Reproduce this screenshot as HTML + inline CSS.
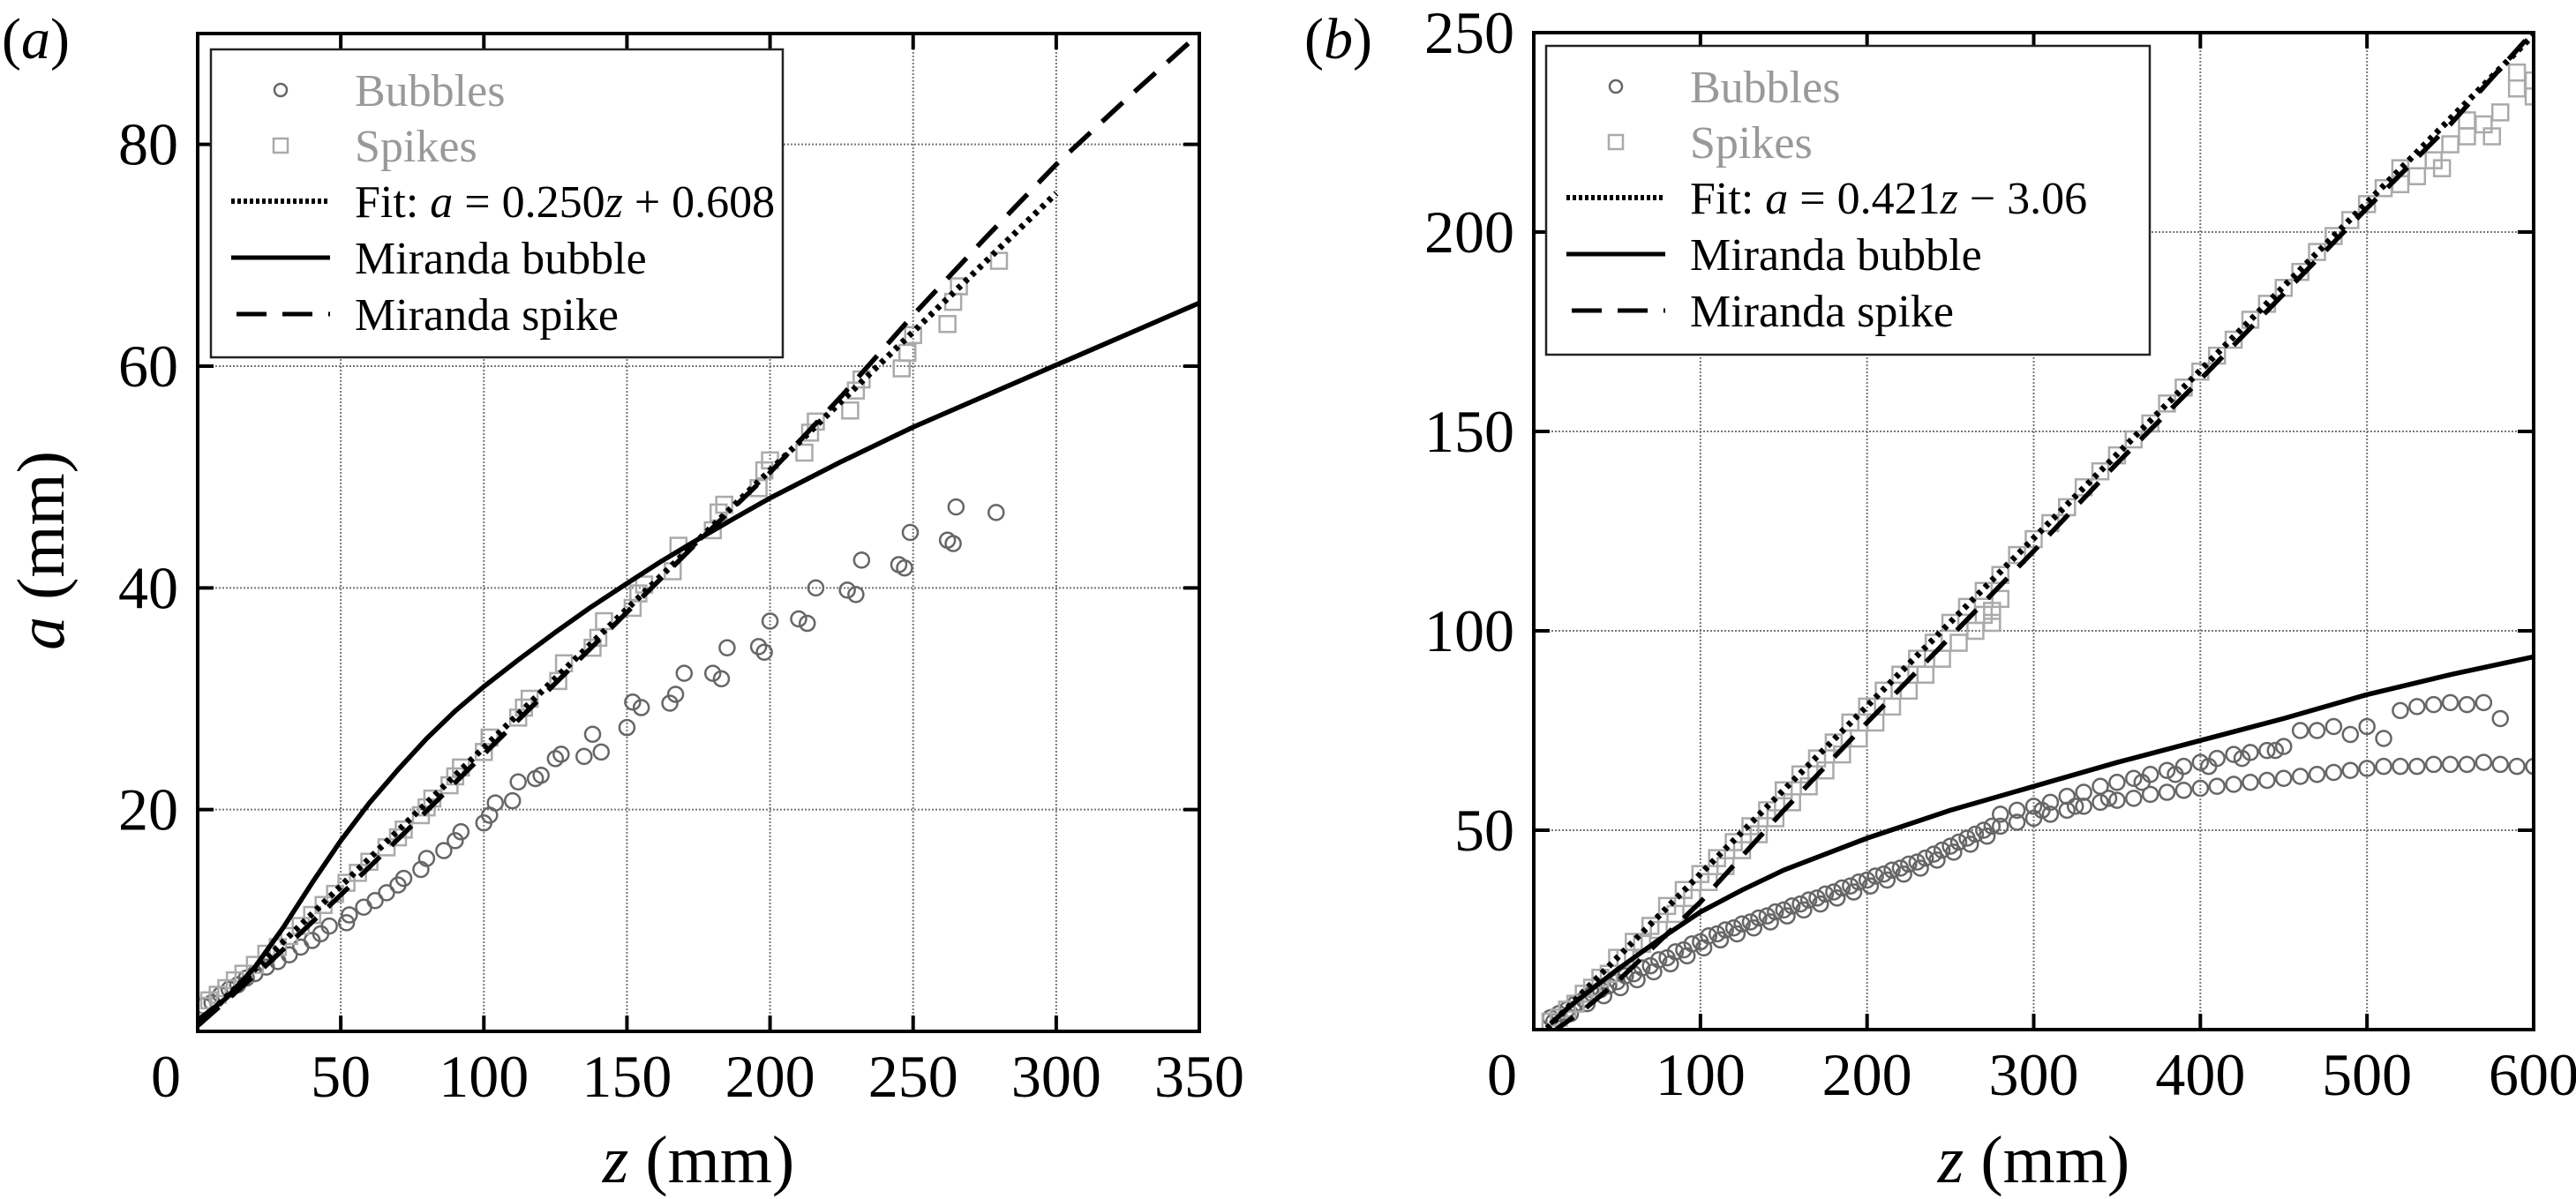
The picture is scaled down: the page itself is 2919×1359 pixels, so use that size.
<!DOCTYPE html>
<html><head><meta charset="utf-8"><style>
html,body{margin:0;padding:0;background:#fff;}
svg{display:block;font-family:"Liberation Serif","DejaVu Serif",serif;}
</style></head><body>
<svg id="fig" width="2919" height="1359" viewBox="0 0 2919 1359" xmlns="http://www.w3.org/2000/svg"></svg>
<script>
// ---------- Panel (a) data ----------
const aBubZ = [2,5,8,11,14,17,20,24,28,32,36,40,43,46,52,53,58,62,66,70,72,78,80,86,90,92,100,102,104,110,112,118,120,125,127,135,138,141,150,152,155,165,167,170,180,183,185,196,198,200,210,213,216,227,230,232,245,247,249,262,264,265,279];
const aBubA = [2.3,2.6,3.3,3.8,4.2,4.8,5.2,5.8,6.3,6.9,7.6,8.2,8.8,9.5,9.8,10.5,11.2,11.8,12.5,13.2,13.8,14.6,15.6,16.3,17.2,18,18.8,19.5,20.6,20.8,22.5,22.8,23.1,24.6,25,24.8,26.8,25.2,27.4,29.7,29.2,29.6,30.4,32.3,32.3,31.8,34.6,34.7,34.2,37,37.2,36.8,40,39.8,39.4,42.5,42.1,41.8,45,44.3,44,47.3,46.8];
const aSpkZ = [2,4,7,10,13,16,20,24,28,32,36,40,44,48,52,56,60,66,70,72,78,80,82,88,90,92,100,102,112,114,116,126,128,138,140,142,152,154,156,166,168,180,182,184,196,198,200,212,214,216,228,230,232,246,248,250,262,264,266,280];
const aSpkA = [2.3,2.8,3.3,3.9,4.6,5.2,6,7,7.6,8.6,9.5,10.5,11.4,12.4,13.4,14.3,15.3,16.6,17.5,18.2,19.5,20.2,21,22.2,23,23.8,25.2,26.5,28.3,29.2,30,31.6,33.2,34.6,35.5,37,38.2,39.5,40.3,41.5,43.8,45.2,46.8,47.5,49,50.6,51.5,52.2,54,55,56,57.8,58.8,59.8,61.2,62.8,63.8,65.8,67.2,69.5];
const aFitZ = [0,300];
const aFitA = [0.608,75.6];
const aMirBZ = [0,10,20,30,40,50,60,70,80,90,100,112,125,137,150,162,175,187,200,225,250,275,300,325,350];
const aMirBA = [1,3,5.8,9.4,13.4,17.2,20.6,23.6,26.4,28.9,31.1,33.5,36,38.2,40.4,42.4,44.4,46.2,48.1,51.4,54.5,57.3,60.1,62.9,65.7];
const aMirSZ = [0,25,50,75,100,125,150,175,200,225,250,275,300,325,350];
const aMirSA = [0.5,6.2,12.3,18.6,25,31.4,37.8,44.2,50.4,57.3,64.6,71.5,78.2,84.2,90];
const aXTicks = [50,100,150,200,250,300,350];
const aYTicks = [20,40,60,80];

// ---------- Panel (b) data ----------
const bBubZ = [10,20,30,40,50,60,70,80,90,100,110,120,130,140,150,160,170,180,190,200,210,220,230,240,250,260,270,280,290,300,310,320,330,340,350,360,370,380,390,400,410,420,430,440,450,460,470,480,490,500,510,520,530,540,550,560,570,580,590,600,
  280,290,300,310,320,330,340,350,360,370,380,390,400,410,420,430,440,450,460,470,480,490,500,510,520,530,540,550,560,570,580,
  15,25,35,45,55,65,75,85,95,105,115,125,135,145,155,165,175,185,195,205,215,225,235,245,255,265,275,305,325,345,365,385,405,425,445,
  12,22,32,42,52,62,72,82,92,102,112,122,132,142,152,162,172,182,192,202,212,222,232,242,252,262,272];
const bBubA = [3,5,7.5,10,12,14,16,18,20,22,24,25.5,27,28.5,30,31.5,33,34.5,36,37.5,39,40.5,42,44,46,48,50,51,52,53,54,55,56,57,57.5,58,59,59.5,60,60.5,61,61.5,62,62.5,63,63.5,64,64.5,65,65.5,66,66,66,66.5,66.5,66.5,67,66.5,66,66,
  54,55,56,57,58.5,59.5,61,62,63,64,65,66,67,68,69,69.5,70,71,75,75,76,74,76,73,80,81,81.5,82,81.5,82,78,
  4,6.5,9,11,13.5,15.5,17.5,19.5,21.5,23.5,25,26.5,28,29.5,31,32.5,34,35.5,37,38.5,40,41.5,43,45,47,49,51,55,56,58,62,64,66,68,70,
  2,4,6.5,8.5,10.5,12.5,14.5,16.5,18.5,20.5,22.5,24,25.5,27,28.5,30,31.5,33,34.5,36,37.5,39,40.5,42.5,44.5,46.5,48.5];
const bSpkZ = [10,20,30,40,50,60,70,80,90,100,110,120,130,140,150,160,170,180,190,200,210,220,230,240,250,260,270,280,265,270,275,280,290,300,310,320,330,340,350,360,370,380,390,400,410,420,430,440,450,460,470,480,490,500,510,520,530,540,550,560,570,580,590,600,520,545,560,575,590,600,
  15,25,35,45,55,65,75,85,95,105,115,125,135,145,155,165,175,185,195,205,215,225,235,245,255,275];
const bSpkA = [2,5,9,13,18,22,26,31,35,39,43,47,51,55,60,64,68,72,77,81,85,89,93,97,102,106,110,114,100,104,102,108,119,123,127,131,136,140,144,148,152,157,161,165,169,173,178,182,186,190,195,199,203,207,211,216,214,218,222,224,227,230,236,234,212,216,228,224,240,238,
  3,6.5,10.5,14,18,21.5,25,29,33,37,41,45,49,53,57,61,65,69,73,77,81,85,89,93,97,105];
const bFitZ = [8,600];
const bFitA = [0.31,249.5];
const bMirBZ = [10,25,50,75,100,125,150,175,200,250,300,350,400,450,500,550,600];
const bMirBA = [1.5,7,15,22.5,29.5,35,40,44,48,55,61,67,72.5,78,84,89,93.5];
const bMirSZ = [10,30,50,75,100,150,200,250,300,350,400,450,500,550,595];
const bMirSA = [-1,5,12,22,32,55,77,98.5,120,142,163,184.5,206,227,248];
const bXTicks = [100,200,300,400,500,600];
const bYTicks = [50,100,150,200,250];

const NS = "http://www.w3.org/2000/svg";
const svg = document.getElementById('fig');
function mk(tag, attrs, parent){
  const e = document.createElementNS(NS, tag);
  for (const k in attrs) e.setAttribute(k, attrs[k]);
  (parent||svg).appendChild(e); return e;
}

function panel(cfg){
  const g = mk('g', {});
  
  
  const X = v => cfg.x0 + (v - cfg.xmin) / (cfg.xmax - cfg.xmin) * (cfg.x1 - cfg.x0);
  const Y = v => cfg.y0 - (v - cfg.ymin) / (cfg.ymax - cfg.ymin) * (cfg.y0 - cfg.y1);
  const cid = cfg.name + '-clip';
  const defs = mk('defs', {}, g);
  const cp = mk('clipPath', {id: cid}, defs);
  mk('rect', {x: cfg.x0, y: cfg.y1, width: cfg.x1 - cfg.x0, height: cfg.y0 - cfg.y1}, cp);
  cfg.xt.forEach(t => {
    if (t >= cfg.xmax) return;
    const l = mk('line', {x1: X(t), x2: X(t), y1: cfg.y0, y2: cfg.y1, stroke: '#777', 'stroke-width': 2, 'stroke-dasharray': '2 2'}, g);
    
    
    mk('line', {x1: X(t), x2: X(t), y1: cfg.y0, y2: cfg.y0 - 18, stroke: '#000', 'stroke-width': 4}, g);
    mk('line', {x1: X(t), x2: X(t), y1: cfg.y1, y2: cfg.y1 + 18, stroke: '#000', 'stroke-width': 4}, g);
  });
  cfg.yt.forEach(t => {
    if (t >= cfg.ymax) return;
    const l = mk('line', {x1: cfg.x0, x2: cfg.x1, y1: Y(t), y2: Y(t), stroke: '#777', 'stroke-width': 2, 'stroke-dasharray': '2 2'}, g);
    
    
    mk('line', {x1: cfg.x0, x2: cfg.x0 + 18, y1: Y(t), y2: Y(t), stroke: '#000', 'stroke-width': 4}, g);
    mk('line', {x1: cfg.x1, x2: cfg.x1 - 18, y1: Y(t), y2: Y(t), stroke: '#000', 'stroke-width': 4}, g);
  });
  cfg.xt.forEach(t => {
    const tx = mk('text', {x: X(t), y: cfg.y0 + 74, 'font-size': 68, 'text-anchor': 'middle', fill: '#000'}, g);
    tx.textContent = t;
    
    
  });
  const z0 = mk('text', {x: cfg.x0 - 36, y: cfg.y0 + 74, 'font-size': 68, 'text-anchor': 'middle', fill: '#000'}, g);
  z0.textContent = '0';
  
  
  cfg.yt.forEach(t => {
    const tx = mk('text', {x: cfg.x0 - 22, y: Y(t) + 23, 'font-size': 68, 'text-anchor': 'end', fill: '#000'}, g);
    tx.textContent = t;
    
    
  });
  const mg = mk('g', {'clip-path': 'url(#' + cid + ')'}, g);
  cfg.bz.forEach((z, i) => {
    const c = mk('circle', {cx: X(z), cy: Y(cfg.ba[i]), r: 8.5, fill: 'none', stroke: '#666', 'stroke-width': 2.5}, mg);
    
    
  });
  cfg.sz.forEach((z, i) => {
    const r = mk('rect', {x: X(z) - 9, y: Y(cfg.sa[i]) - 9, width: 18, height: 18, fill: 'none', stroke: '#aaa', 'stroke-width': 2.5}, mg);
    
    
  });
  const pts = (zs, as) => zs.map((z, i) => X(z).toFixed(1) + ',' + Y(as[i]).toFixed(1)).join(' ');
  const mb = mk('polyline', {points: pts(cfg.mbz, cfg.mba), fill: 'none', stroke: '#000', 'stroke-width': 5.5, 'stroke-linejoin': 'round'}, mg);
  
  
  const ms = mk('polyline', {points: pts(cfg.msz, cfg.msa), fill: 'none', stroke: '#000', 'stroke-width': 5.5, 'stroke-dasharray': '32 18'}, mg);
  
  
  const fl = mk('polyline', {points: pts(cfg.fz, cfg.fa), fill: 'none', stroke: '#000', 'stroke-width': 7, 'stroke-dasharray': '5 6'}, mg);
  
  
  const fr = mk('rect', {x: cfg.x0, y: cfg.y1, width: cfg.x1 - cfg.x0, height: cfg.y0 - cfg.y1, fill: 'none', stroke: '#000', 'stroke-width': 4}, g);
  
  
  const L = cfg.leg;
  const lg = mk('g', {}, g);
  
  
  mk('rect', {x: L.x, y: L.y, width: L.w, height: L.h, fill: '#fff', stroke: '#222', 'stroke-width': 2.5}, lg);
  const rows = [L.y + 46, L.y + 109, L.y + 172, L.y + 236, L.y + 300];
  const sx0 = L.x + 23, sx1 = L.x + 135, tx0 = L.x + 163, mid = (sx0 + sx1) / 2;
  mk('circle', {cx: mid, cy: rows[0], r: 7, fill: 'none', stroke: '#666', 'stroke-width': 2.5}, lg);
  mk('rect', {x: mid - 8, y: rows[1] - 8, width: 16, height: 16, fill: 'none', stroke: '#aaa', 'stroke-width': 2.5}, lg);
  mk('line', {x1: sx0, x2: sx1, y1: rows[2], y2: rows[2], stroke: '#000', 'stroke-width': 6, 'stroke-dasharray': '4 3'}, lg);
  mk('line', {x1: sx0, x2: sx1, y1: rows[3], y2: rows[3], stroke: '#000', 'stroke-width': 5}, lg);
  mk('line', {x1: sx0 + 6, x2: sx1, y1: rows[4], y2: rows[4], stroke: '#000', 'stroke-width': 5, 'stroke-dasharray': '34 18'}, lg);
  const labels = [['Bubbles', '#999', 'legend-bubbles'], ['Spikes', '#999', 'legend-spikes'], [null, '#000', 'legend-fit'], ['Miranda bubble', '#000', 'legend-miranda-bubble'], ['Miranda spike', '#000', 'legend-miranda-spike']];
  labels.forEach((lb, i) => {
    const t = mk('text', {x: tx0, y: rows[i] + 18, 'font-size': 52, fill: lb[1]}, lg);
    if (lb[0]) t.textContent = lb[0];
    else t.innerHTML = 'Fit: <tspan font-style="italic">a</tspan> = ' + cfg.fitTxt;
    
    
  });
  const xt = mk('text', {x: (cfg.x0 + cfg.x1) / 2, y: 1340, 'font-size': 76, 'text-anchor': 'middle', fill: '#000'}, g);
  xt.innerHTML = '<tspan font-style="italic">z</tspan> (mm)';
  
  
  const pl = mk('text', {x: cfg.plx, y: 66, 'font-size': 66, fill: '#000'}, g);
  pl.innerHTML = '(<tspan font-style="italic">' + cfg.pl + '</tspan>)';
  
  
  return {X, Y};
}

panel({name: 'panel-a', x0: 224, x1: 1359, y0: 1169, y1: 38, xmin: 0, xmax: 350, ymin: 0, ymax: 90,
  xt: aXTicks, yt: aYTicks, bz: aBubZ, ba: aBubA, sz: aSpkZ, sa: aSpkA, fz: aFitZ, fa: aFitA,
  mbz: aMirBZ, mba: aMirBA, msz: aMirSZ, msa: aMirSA,
  leg: {x: 239, y: 56, w: 648, h: 349}, fitTxt: '0.250<tspan font-style="italic">z</tspan> + 0.608', pl: 'a', plx: 2});
panel({name: 'panel-b', x0: 1738, x1: 2871, y0: 1167, y1: 37, xmin: 0, xmax: 600, ymin: 0, ymax: 250,
  xt: bXTicks, yt: bYTicks, bz: bBubZ, ba: bBubA, sz: bSpkZ, sa: bSpkA, fz: bFitZ, fa: bFitA,
  mbz: bMirBZ, mba: bMirBA, msz: bMirSZ, msa: bMirSA,
  leg: {x: 1752, y: 52, w: 684, h: 350}, fitTxt: '0.421<tspan font-style="italic">z</tspan> − 3.06', pl: 'b', plx: 1478});

const yl = mk('text', {x: 0, y: 0, 'font-size': 76, 'text-anchor': 'middle', fill: '#000', transform: 'translate(72,624) rotate(-90)'});
yl.innerHTML = '<tspan font-style="italic">a</tspan> (mm)';


</script>
</body></html>
